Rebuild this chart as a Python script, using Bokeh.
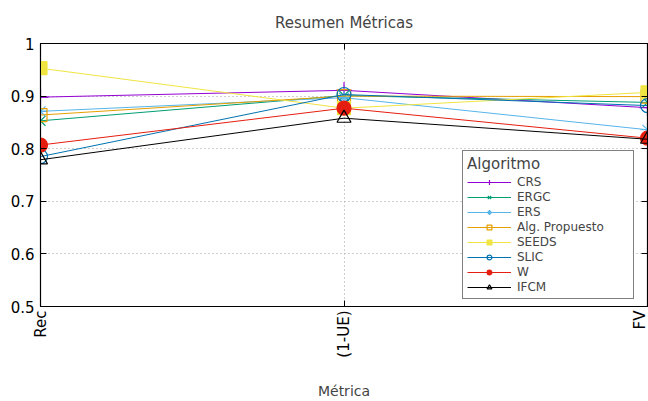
import math
from bokeh.plotting import figure
from bokeh.models import (FixedTicker, LinearAxis, Legend, LegendItem, Range1d)
from bokeh.embed import file_html
from bokeh.resources import INLINE

# Metrics on the x axis
metrics = ["Rec", "(1-UE)", "FV"]
xpos = [0, 1, 2]

# Per-algorithm scores for each metric
crs = [0.898, 0.911, 0.878]
ergc = [0.853, 0.901, 0.888]
ers = [0.871, 0.897, 0.836]
alg_propuesto = [0.864, 0.900, 0.899]
seeds = [0.953, 0.877, 0.907]
slic = [0.785, 0.903, 0.882]
w = [0.807, 0.877, 0.820]
ifcm = [0.779, 0.858, 0.818]

y_ticks = [0.5, 0.6, 0.7, 0.8, 0.9, 1.0]
y_labels = ["0.5", "0.6", "0.7", "0.8", "0.9", "1"]

FONT = "DejaVu Sans"

p = figure(width=648, height=401, output_backend="svg", toolbar_location=None,
           x_range=Range1d(0, 2), y_range=Range1d(0.5, 1.0),
           min_border_left=40, min_border_right=1, min_border_top=43,
           min_border_bottom=95, x_axis_location=None, y_axis_location=None)

p.title.text = "Resumen Métricas"
p.title.align = "center"
p.title.text_font = FONT
p.title.text_font_size = "15px"
p.title.text_font_style = "normal"
p.title.offset = 0
p.title.standoff = 23

p.outline_line_color = "black"
p.outline_line_width = 1.2
p.background_fill_color = "white"
p.border_fill_color = "white"


def style_axis(ax):
    ax.axis_line_color = "black"
    ax.major_tick_in = 6
    ax.major_tick_out = 0
    ax.minor_tick_line_color = None
    ax.major_tick_line_color = "black"
    ax.major_label_text_font = FONT
    ax.major_label_text_font_size = "15px"
    ax.major_label_text_color = "black"


xb = LinearAxis(ticker=FixedTicker(ticks=xpos),
                major_label_overrides={x: m for x, m in zip(xpos, metrics)})
style_axis(xb)
xb.major_label_orientation = math.pi / 2
xb.major_label_standoff = 4
xb.axis_label = "Métrica"
xb.axis_label_text_font = FONT
xb.axis_label_text_font_size = "14px"
xb.axis_label_text_font_style = "normal"
xb.axis_label_standoff = 22
p.add_layout(xb, "below")

yl = LinearAxis(ticker=FixedTicker(ticks=y_ticks),
                major_label_overrides={t: s for t, s in zip(y_ticks, y_labels)})
style_axis(yl)
yl.major_label_standoff = 6
p.add_layout(yl, "left")

# mirrored tick marks on the top and right edges, without labels
xa = LinearAxis(ticker=FixedTicker(ticks=xpos),
                major_label_overrides={x: "" for x in xpos})
style_axis(xa)
xa.major_label_standoff = 0
p.add_layout(xa, "above")

yr = LinearAxis(ticker=FixedTicker(ticks=y_ticks),
                major_label_overrides={t: "" for t in y_ticks})
style_axis(yr)
yr.major_label_standoff = 0
p.add_layout(yr, "right")

# dotted grid
p.xgrid.ticker = FixedTicker(ticks=xpos)
p.ygrid.ticker = FixedTicker(ticks=y_ticks)
for g in (p.xgrid, p.ygrid):
    g.grid_line_color = "#a0a0a0"
    g.grid_line_dash = "1 3"
    g.grid_line_width = 1

series = [
    ("CRS", crs, "#9400d3", "cross", False, 16),
    ("ERGC", ergc, "#009e73", "x", False, 14),
    ("ERS", ers, "#56b4e9", "asterisk", False, 14),
    ("Alg. Propuesto", alg_propuesto, "#e69f00", "square", False, 13),
    ("SEEDS", seeds, "#f0e442", "square", True, 13),
    ("SLIC", slic, "#0072b2", "circle", False, 14),
    ("W", w, "#e51e10", "circle", True, 14),
    ("IFCM", ifcm, "black", "triangle", False, 14),
]

items = []
for name, vals, color, marker, filled, size in series:
    ln = p.line(xpos, vals, line_color=color, line_width=1)
    sc = p.scatter(xpos, vals, marker=marker, size=size, line_color=color,
                   line_width=1.2,
                   fill_color=color if filled else None)
    items.append(LegendItem(label=name, renderers=[ln, sc]))

legend = Legend(items=items, location=(422, 7))
legend.title = "Algoritmo"
legend.title_text_font = FONT
legend.title_text_font_size = "15px"
legend.title_text_font_style = "normal"
legend.title_standoff = 2
legend.label_text_font = FONT
legend.label_text_font_size = "12px"
legend.label_height = 12
legend.label_width = 112
legend.glyph_height = 12
legend.glyph_width = 44
legend.spacing = 1
legend.padding = 4
legend.margin = 0
legend.label_standoff = 6
legend.border_line_color = "black"
legend.border_line_width = 1
legend.background_fill_alpha = 1
p.add_layout(legend, "center")

open("out.html", "w").write(file_html(p, INLINE))
